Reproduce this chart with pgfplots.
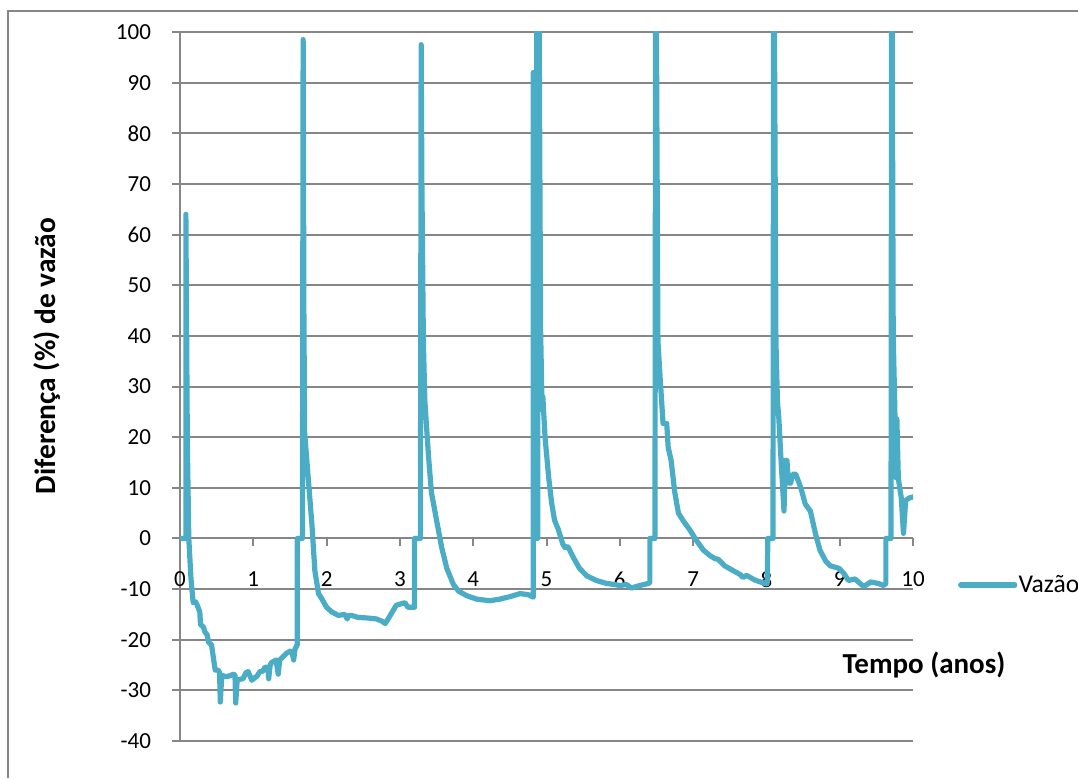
\documentclass[border=0pt]{standalone}
\usepackage{pgfplots}
\pgfplotsset{compat=1.18}
\usepackage{fontspec}
\setmainfont{Carlito}
\definecolor{gridgray}{HTML}{868686}
\definecolor{vazao}{HTML}{4BACC6}
\begin{document}
\begin{tikzpicture}
\useasboundingbox (0,0) rectangle (539pt,389pt);
\draw[gridgray, line width=1pt] (4pt,0pt) -- (4pt,383.5pt) -- (545pt,383.5pt);
\begin{axis}[
  at={(90pt,18.5pt)}, anchor=south west,
  scale only axis, width=366.5pt, height=354.5pt,
  xmin=0, xmax=10, ymin=-40, ymax=100,
  axis x line*=middle, axis y line*=left,
  hide obscured x ticks=false,
  axis line style={gridgray, line width=1pt},
  xtick={0,1,...,10},
  xticklabels={0,1,2,3,4,5,6,7,8,9,10},
  ytick={-40,-30,...,100},
  yticklabels={-40,-30,-20,-10,0,10,20,30,40,50,60,70,80,90,100},
  tick align=outside, major tick length=4pt,
  tick style={gridgray, line width=1pt},
  ymajorgrids, grid style={gridgray, line width=1pt},
  ticklabel style={font=\fontsize{11.5}{13}\selectfont, text=black},
  xticklabel style={yshift=-9pt},
  yticklabel style={xshift=-7pt},
  legend style={at={(rel axis cs:1.061,0.22)}, anchor=west, draw=none, fill=none,
    inner sep=0pt, font=\fontsize{12.8}{15}\selectfont, nodes={inner sep=0.6pt}},
  legend image code/.code={\draw[#1] (0pt,0pt) -- (27pt,0pt);},
  clip=true,
]
\addplot[vazao, line width=2.6pt, line join=round, line cap=round] coordinates {
(0.02,0) (0.08,0) (0.08,64) (0.10,19) (0.12,0) (0.15,-8) (0.18,-12.7) (0.21,-12.5)
(0.23,-13) (0.27,-14.5) (0.28,-17) (0.32,-17.5) (0.34,-18.5) (0.37,-19) (0.39,-20.5)
(0.43,-21) (0.46,-24) (0.48,-26) (0.52,-26) (0.54,-26.5) (0.55,-32.3) (0.57,-27)
(0.62,-27.3) (0.66,-27.2) (0.70,-27) (0.73,-26.8) (0.75,-27) (0.76,-32.5) (0.78,-28)
(0.82,-27.8) (0.86,-27.7) (0.90,-26.5) (0.93,-26.3) (0.96,-27.3) (0.98,-28) (1.02,-27.5)
(1.05,-27.2) (1.09,-26.3) (1.13,-26.2) (1.16,-25.4) (1.20,-25.5) (1.21,-27.7) (1.23,-25)
(1.25,-24.5) (1.31,-24) (1.34,-26.8) (1.36,-24) (1.39,-23.6) (1.45,-22.7) (1.51,-22.2)
(1.53,-22.5) (1.55,-24) (1.57,-21.8) (1.60,-21) (1.60,0) (1.67,0) (1.68,98.5)
(1.69,45) (1.70,21) (1.75,11.8) (1.80,2.7) (1.84,-6.4) (1.89,-10.9) (1.93,-11.8)
(2.0,-13.6) (2.07,-14.5) (2.16,-15.2) (2.25,-15) (2.28,-15.9) (2.30,-15.2) (2.34,-15.2)
(2.43,-15.6) (2.55,-15.7) (2.68,-15.9) (2.75,-16.3) (2.80,-16.8) (2.86,-15.4) (2.95,-13.2)
(3.02,-12.9) (3.07,-12.7) (3.11,-13.6) (3.20,-13.6) (3.20,0) (3.28,0) (3.29,97.5)
(3.30,70) (3.32,39) (3.34,27.2) (3.39,16.3) (3.43,9.1) (3.5,3.6) (3.57,-1.8) (3.64,-5.9)
(3.73,-9.1) (3.8,-10.4) (3.91,-11.3) (4.05,-12) (4.23,-12.3) (4.36,-12) (4.5,-11.5)
(4.64,-10.9) (4.75,-11.1) (4.82,-11.6) (4.82,92) (4.84,0) (4.86,0) (4.87,130) (4.88,0)
(4.89,130) (4.92,40.8) (4.94,25.4) (4.95,28) (4.98,20) (5.03,12) (5.07,7) (5.11,3.6)
(5.16,1.8) (5.22,-1) (5.25,-1.8) (5.28,-1.6) (5.3,-1.8) (5.36,-3.6) (5.45,-5.9)
(5.55,-7.4) (5.68,-8.3) (5.82,-8.9) (5.93,-9.1) (6.0,-9.3) (6.09,-9.1) (6.16,-9.8)
(6.27,-9.3) (6.39,-8.9) (6.41,-8.7) (6.41,0) (6.48,0) (6.49,130)
(6.52,39) (6.55,31.8) (6.59,22.7) (6.64,22.7) (6.66,18) (6.70,15.4) (6.75,9.1) (6.80,5)
(6.86,3.6) (6.95,1.8) (7.05,-0.5) (7.14,-2.3) (7.23,-3.4) (7.30,-4) (7.34,-4.1)
(7.43,-5.4) (7.55,-6.4) (7.64,-7.1) (7.68,-7.7) (7.73,-7.3) (7.84,-8.2) (7.98,-8.9)
(8.01,-9) (8.02,0) (8.09,0) (8.10,130)
(8.13,39) (8.15,27.2) (8.17,23.6) (8.20,15.4) (8.24,5.4) (8.26,15.4) (8.28,15.4)
(8.30,11) (8.33,10.9) (8.36,12.7) (8.40,12.7) (8.47,10) (8.53,6.8) (8.6,5.4) (8.67,0.9)
(8.73,-2.3) (8.81,-4.5) (8.87,-5.4) (8.99,-5.9) (9.05,-6.8) (9.12,-8.3) (9.21,-8)
(9.27,-8.8) (9.33,-9.5) (9.42,-8.6) (9.53,-8.9) (9.6,-9.3) (9.63,-8.9) (9.63,0)
(9.70,0) (9.71,130)
(9.73,40) (9.75,27) (9.77,12) (9.78,23.6) (9.80,11.8) (9.84,8) (9.87,1) (9.90,7.5)
(9.95,8) (10.0,8.2)
};
\addlegendentry{Vazão}
\end{axis}
\node[rotate=90, font=\bfseries\fontsize{14.7}{16}\selectfont] at (23.5pt,211pt) {Diferença (\%) de vazão};
\node[font=\bfseries\fontsize{14.5}{16}\selectfont] at (462pt,56.5pt) {Tempo (anos)};
\end{tikzpicture}
\end{document}
